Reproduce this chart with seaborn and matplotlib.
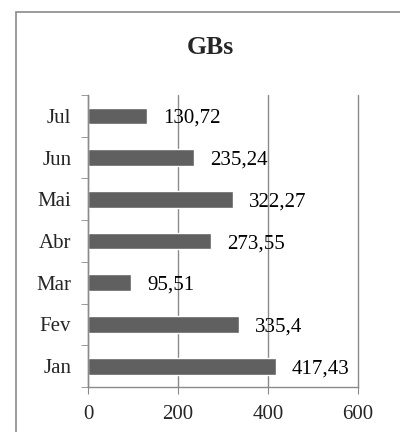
import matplotlib
matplotlib.use('Agg')
import matplotlib.pyplot as plt
import pandas as pd
import seaborn as sns
from matplotlib.patches import Rectangle

# Data (top to bottom as shown)
months = ['Jul', 'Jun', 'Mai', 'Abr', 'Mar', 'Fev', 'Jan']
gbs = [130.72, 235.24, 322.27, 273.55, 95.51, 335.4, 417.43]
x_ticks = [0, 200, 400, 600]

df = pd.DataFrame({'month': months, 'gb': gbs})

sns.set_style('white')
plt.rcParams['font.family'] = ['Liberation Serif', 'DejaVu Serif']

fig = plt.figure(figsize=(4, 4.32), dpi=100)
ax = fig.add_axes([0.22, 0.104, 0.675, 0.676])

sns.barplot(data=df, x='gb', y='month', order=months, orient='h',
            color='#606060', saturation=1, width=0.4, ax=ax)

# value labels with comma decimals
for i, v in enumerate(gbs):
    ax.annotate(str(v).replace('.', ','), xy=(v, i), xytext=(11.5, 0),
                textcoords='offset points', va='center_baseline', ha='left',
                fontsize=15, color='black')

ax.set_xlim(0, 600)
ax.set_xticks(x_ticks)
ax.set_ylim(6.5, -0.5)
ax.set_yticks([i - 0.5 for i in range(8)], minor=True)
ax.set_xlabel('')
ax.set_ylabel('')
ax.grid(axis='x', color='#8a8a8a', linewidth=1)
for gl in ax.get_xgridlines():
    gl.set_clip_on(False)
ax.set_axisbelow(True)
for s in ['top', 'right']:
    ax.spines[s].set_visible(False)
for s in ['left', 'bottom']:
    ax.spines[s].set_color('#8a8a8a')
    ax.spines[s].set_linewidth(1)
ax.tick_params(axis='y', which='major', length=0, labelsize=15, pad=12)
ax.tick_params(axis='y', which='minor', length=5, color='#8a8a8a', direction='out', left=True)
ax.tick_params(axis='x', length=5, color='#8a8a8a', direction='out', bottom=True,
               labelsize=15, pad=8)

fig.text(0.525, 1 - 48 / 432, 'GBs', ha='center', va='center',
         fontsize=18.5, fontweight='bold')

# outer chart border (cut off at right and bottom)
fig.patches.append(Rectangle((16 / 400, -0.05), 1.2, 1 - 12 / 432 + 0.05,
                             transform=fig.transFigure, fill=False,
                             edgecolor='#8a8a8a', linewidth=1.2))

fig.savefig('out.png', dpi=100)
